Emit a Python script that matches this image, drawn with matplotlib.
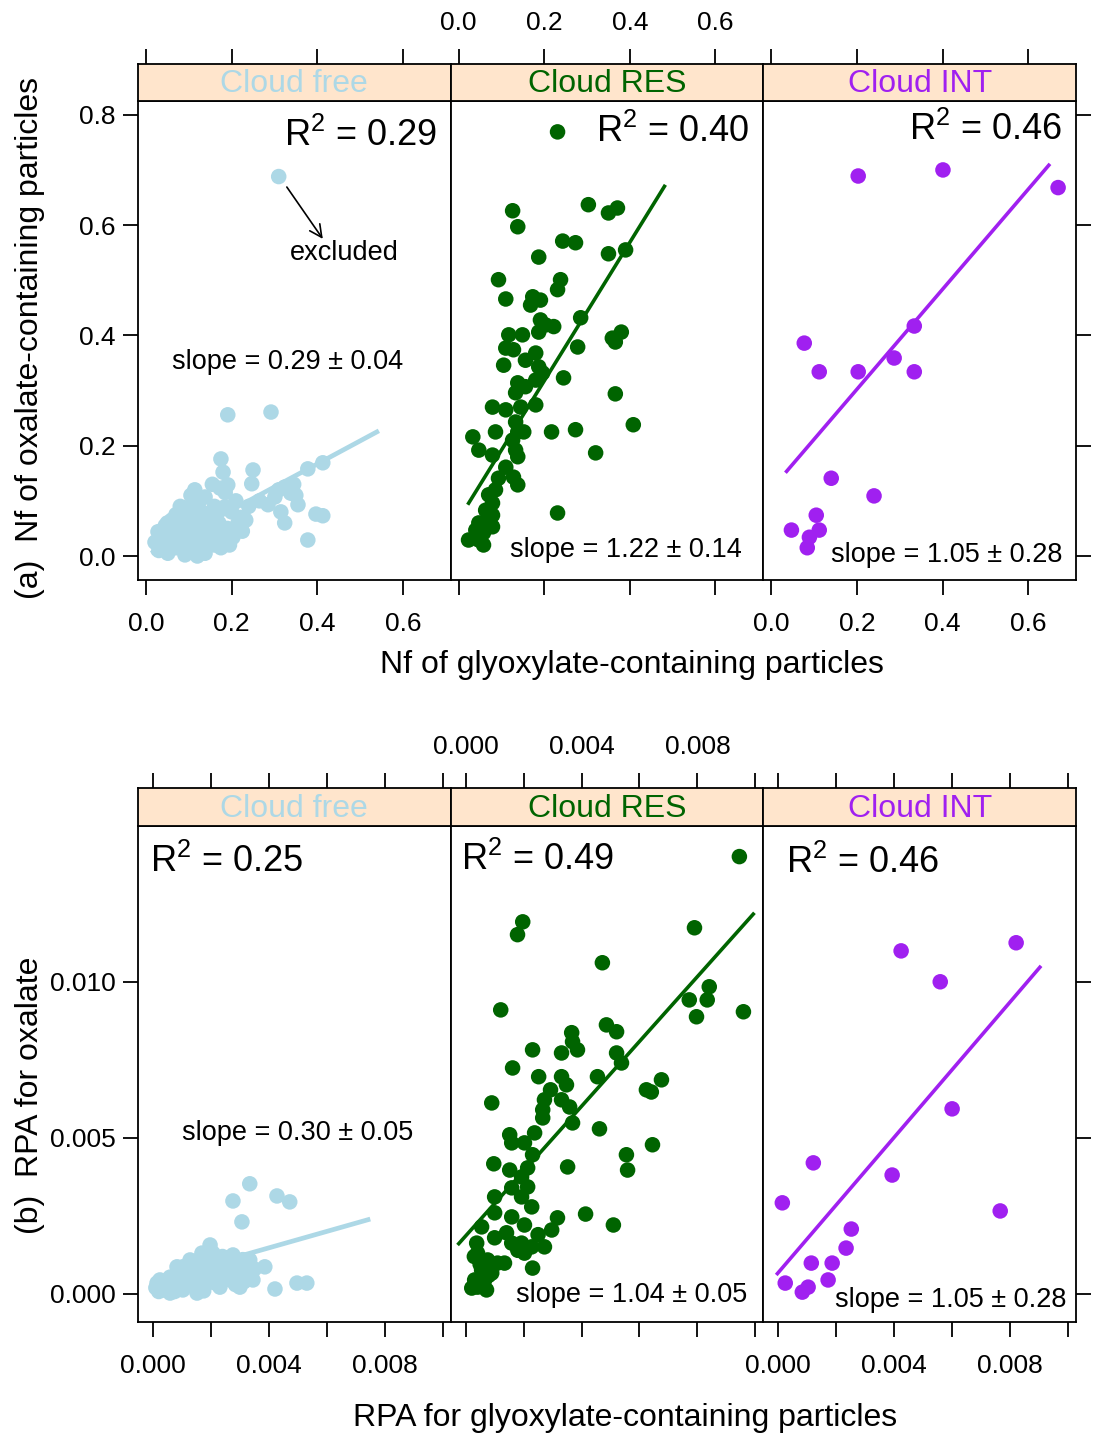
import matplotlib
matplotlib.use('Agg')
import matplotlib.pyplot as plt
import numpy as np

plt.rcParams['font.family'] = ['Liberation Sans', 'DejaVu Sans']
plt.rcParams['mathtext.fontset'] = 'custom'
plt.rcParams['mathtext.rm'] = 'Liberation Sans'
plt.rcParams['mathtext.it'] = 'Liberation Sans:italic'

# ---------------- data ----------------
groups = ["Cloud free", "Cloud RES", "Cloud INT"]
group_colors = ["#ADD8E6", "#006400", "#A020F0"]

# (a) Nf values
cf_a_x = [0.191, 0.292, 0.175, 0.180, 0.250, 0.247, 0.191, 0.173, 0.114, 0.138, 0.093, 0.184,
          0.378, 0.413, 0.324, 0.338, 0.301, 0.285, 0.355, 0.315, 0.324, 0.397, 0.413, 0.378,
          0.233, 0.215, 0.203, 0.028, 0.021, 0.138, 0.091, 0.051, 0.163, 0.161, 0.184, 0.068,
          0.058, 0.04, 0.06, 0.08, 0.10, 0.12, 0.14, 0.16, 0.11, 0.09, 0.13, 0.07, 0.05, 0.10,
          0.12, 0.15, 0.17, 0.19, 0.20, 0.08, 0.06, 0.03, 0.045, 0.115, 0.145, 0.175, 0.09,
          0.13, 0.16, 0.22, 0.24, 0.21, 0.105, 0.125, 0.07, 0.185, 0.155, 0.125, 0.085,
          0.035, 0.055, 0.075, 0.095, 0.115, 0.135, 0.155, 0.065, 0.085, 0.105, 0.145, 0.165,
          0.05, 0.07, 0.11, 0.13, 0.195, 0.225, 0.265, 0.31, 0.345, 0.35]
cf_a_y = [0.256, 0.261, 0.176, 0.152, 0.156, 0.131, 0.129, 0.123, 0.120, 0.107, 0.087, 0.089,
          0.158, 0.169, 0.125, 0.114, 0.107, 0.093, 0.093, 0.080, 0.060, 0.076, 0.073, 0.029,
          0.065, 0.060, 0.034, 0.044, 0.025, 0.005, 0.002, 0.005, 0.053, 0.035, 0.029, 0.060,
          0.035, 0.02, 0.03, 0.015, 0.04, 0.03, 0.05, 0.02, 0.06, 0.07, 0.08, 0.05, 0.04, 0.01,
          0.00, 0.07, 0.06, 0.05, 0.08, 0.09, 0.065, 0.01, 0.055, 0.095, 0.035, 0.015, 0.035,
          0.015, 0.09, 0.07, 0.09, 0.10, 0.11, 0.10, 0.075, 0.115, 0.13, 0.05, 0.055,
          0.03, 0.012, 0.03, 0.02, 0.025, 0.04, 0.045, 0.045, 0.075, 0.085, 0.065, 0.08,
          0.06, 0.015, 0.045, 0.06, 0.02, 0.045, 0.1, 0.12, 0.13, 0.11]
excluded_x = [0.310]
excluded_y = [0.688]

res_a_x = [0.231, 0.303, 0.350, 0.371, 0.126, 0.138, 0.243, 0.273, 0.187, 0.350, 0.390, 0.093,
           0.238, 0.231, 0.110, 0.173, 0.168, 0.191, 0.191, 0.203, 0.222, 0.285, 0.187, 0.117,
           0.149, 0.359, 0.380, 0.366, 0.110, 0.128, 0.278, 0.180, 0.156, 0.105, 0.187, 0.196,
           0.245, 0.180, 0.138, 0.156, 0.133, 0.366, 0.079, 0.110, 0.145, 0.180, 0.133, 0.086,
           0.138, 0.152, 0.217, 0.273, 0.408, 0.033, 0.126, 0.047, 0.079, 0.133, 0.138, 0.320,
           0.110, 0.093, 0.128, 0.138, 0.086, 0.070, 0.079, 0.231, 0.063, 0.079, 0.047, 0.068,
           0.079, 0.040, 0.058, 0.023, 0.047, 0.058, 0.044]
res_a_y = [0.769, 0.637, 0.622, 0.631, 0.626, 0.597, 0.571, 0.568, 0.542, 0.548, 0.555, 0.501,
           0.501, 0.483, 0.466, 0.470, 0.455, 0.464, 0.428, 0.419, 0.416, 0.432, 0.406, 0.401,
           0.401, 0.395, 0.406, 0.388, 0.377, 0.374, 0.379, 0.368, 0.355, 0.346, 0.343, 0.332,
           0.323, 0.319, 0.314, 0.307, 0.296, 0.294, 0.270, 0.265, 0.270, 0.274, 0.243, 0.225,
           0.225, 0.225, 0.225, 0.229, 0.238, 0.216, 0.210, 0.192, 0.183, 0.192, 0.180, 0.187,
           0.161, 0.141, 0.143, 0.129, 0.120, 0.111, 0.096, 0.078, 0.083, 0.074, 0.060, 0.060,
           0.053, 0.047, 0.042, 0.029, 0.029, 0.020, 0.034]

int_a_x = [0.203, 0.401, 0.670, 0.334, 0.077, 0.112, 0.203, 0.287, 0.334, 0.140, 0.240, 0.105,
           0.047, 0.112, 0.089, 0.084]
int_a_y = [0.689, 0.700, 0.668, 0.417, 0.386, 0.334, 0.334, 0.359, 0.334, 0.141, 0.109, 0.074,
           0.047, 0.047, 0.034, 0.015]

# (b) RPA values
cf_b_x = [0.00334, 0.00276, 0.00428, 0.00472, 0.00307, 0.00386, 0.00421, 0.00497, 0.00531,
          0.00197, 0.00276, 0.00083, 0.00128, 0.00169, 0.00207, 0.00231, 0.00300, 0.00324,
          0.00345, 0.00014, 0.00034, 0.00069, 0.00103, 0.00152, 0.00186, 0.00221, 0.00266,
          0.00059, 0.00117, 0.00162, 0.00207, 0.00255, 0.00290, 0.00024, 0.00083, 0.00138,
          0.00197, 0.00231, 0.00300, 0.00186, 0.00266, 0.00334, 0.00152, 0.00059, 0.00103,
          0.00152, 0.00010, 0.00045, 0.00075, 0.00095, 0.00125, 0.00145, 0.00175, 0.00210,
          0.00245, 0.00280, 0.00315, 0.00050, 0.00090, 0.00130, 0.00165, 0.00240, 0.00285,
          0.00020, 0.00115, 0.00180, 0.00215, 0.00260, 0.00350, 0.00310]
cf_b_y = [0.00353, 0.00298, 0.00314, 0.00295, 0.00231, 0.00087, 0.00016, 0.00035, 0.00035,
          0.00157, 0.00125, 0.00087, 0.00109, 0.00131, 0.00131, 0.00099, 0.00099, 0.00067,
          0.00045, 0.00035, 0.00013, 0.00022, 0.00013, 0.00022, 0.00035, 0.00045, 0.00045,
          0.00054, 0.00067, 0.00077, 0.00087, 0.00077, 0.00067, 0.00045, 0.00045, 0.00045,
          0.00054, 0.00022, 0.00022, 0.00109, 0.00109, 0.00109, 0.00003, 0.00003, 0.00087,
          0.00099, 0.00020, 0.00028, 0.00008, 0.00030, 0.00030, 0.00060, 0.00010, 0.00070,
          0.00060, 0.00090, 0.00040, 0.00040, 0.00060, 0.00075, 0.00115, 0.00120, 0.00030,
          0.00008, 0.00050, 0.00085, 0.00035, 0.00100, 0.00080, 0.00110]

res_b_x = [0.00945, 0.00197, 0.00179, 0.00790, 0.00472, 0.00121, 0.00959, 0.00772, 0.00841,
           0.00834, 0.00797, 0.00486, 0.00521, 0.00366, 0.00369, 0.00386, 0.00331, 0.00231,
           0.00521, 0.00538, 0.00162, 0.00252, 0.00331, 0.00455, 0.00348, 0.00676, 0.00624,
           0.00641, 0.00293, 0.00272, 0.00090, 0.00331, 0.00359, 0.00266, 0.00266, 0.00369,
           0.00462, 0.00645, 0.00152, 0.00238, 0.00159, 0.00203, 0.00231, 0.00555, 0.00559,
           0.00097, 0.00352, 0.00214, 0.00152, 0.00193, 0.00214, 0.00159, 0.00100, 0.00193,
           0.00228, 0.00414, 0.00510, 0.00317, 0.00100, 0.00159, 0.00203, 0.00297, 0.00055,
           0.00141, 0.00159, 0.00193, 0.00228, 0.00272, 0.00038, 0.00203, 0.00231, 0.00041,
           0.00076, 0.00110, 0.00134, 0.00055, 0.00090, 0.00031, 0.00066, 0.00021, 0.00072,
           0.00041, 0.00050, 0.00080, 0.00060, 0.00030, 0.00100, 0.00180, 0.00250]
res_b_y = [0.01401, 0.01192, 0.01151, 0.01173, 0.01061, 0.00910, 0.00904, 0.00942, 0.00984,
           0.00942, 0.00888, 0.00862, 0.00840, 0.00837, 0.00808, 0.00782, 0.00772, 0.00782,
           0.00772, 0.00740, 0.00724, 0.00696, 0.00696, 0.00696, 0.00670, 0.00686, 0.00654,
           0.00647, 0.00654, 0.00622, 0.00612, 0.00622, 0.00599, 0.00590, 0.00564, 0.00548,
           0.00529, 0.00478, 0.00510, 0.00516, 0.00484, 0.00484, 0.00446, 0.00446, 0.00397,
           0.00417, 0.00407, 0.00404, 0.00397, 0.00375, 0.00343, 0.00340, 0.00311, 0.00311,
           0.00279, 0.00256, 0.00221, 0.00244, 0.00260, 0.00247, 0.00221, 0.00205, 0.00215,
           0.00196, 0.00163, 0.00163, 0.00151, 0.00151, 0.00163, 0.00131, 0.00083, 0.00131,
           0.00109, 0.00099, 0.00099, 0.00077, 0.00067, 0.00045, 0.00045, 0.00019, 0.00013,
           0.00022, 0.00095, 0.00060, 0.00030, 0.00120, 0.00180, 0.00140, 0.00190]

int_b_x = [0.00821, 0.00424, 0.00559, 0.00600, 0.00121, 0.00393, 0.00014, 0.00766, 0.00252,
           0.00234, 0.00114, 0.00186, 0.00172, 0.00024, 0.00103, 0.00083]
int_b_y = [0.01125, 0.01099, 0.01000, 0.00593, 0.00420, 0.00381, 0.00292, 0.00266, 0.00208,
           0.00147, 0.00099, 0.00099, 0.00045, 0.00035, 0.00022, 0.00006]

# fitted regression lines (end points)
fit_a_x = [[0.012, 0.544], [0.021, 0.483], [0.033, 0.651]]
fit_a_y = [[0.005, 0.227], [0.093, 0.673], [0.151, 0.711]]
fit_b_x = [[0.0001, 0.0075], [-0.00028, 0.00997], [-0.00007, 0.00907]]
fit_b_y = [[0.00045, 0.0024], [0.00157, 0.01221], [0.00061, 0.01051]]

r2_a = ["0.29", "0.40", "0.46"]
r2_b = ["0.25", "0.49", "0.46"]
slope_a = ["0.29 \u00b1 0.04", "1.22 \u00b1 0.14", "1.05 \u00b1 0.28"]
slope_b = ["0.30 \u00b1 0.05", "1.04 \u00b1 0.05", "1.05 \u00b1 0.28"]

xticks_a = [0.0, 0.2, 0.4, 0.6]
xticklabels_a = ["0.0", "0.2", "0.4", "0.6"]
yticks_a = [0.0, 0.2, 0.4, 0.6, 0.8]
yticklabels_a = ["0.0", "0.2", "0.4", "0.6", "0.8"]
xticks_b = [0.0, 0.002, 0.004, 0.006, 0.008, 0.010]
xticklabels_b = ["0.000", "", "0.004", "", "0.008", ""]
yticks_b = [0.0, 0.005, 0.010]
yticklabels_b = ["0.000", "0.005", "0.010"]

xlabel_a = "Nf of glyoxylate-containing particles"
ylabel_a = "(a)  Nf of oxalate-containing particles"
xlabel_b = "RPA for glyoxylate-containing particles"
ylabel_b = "(b)  RPA for oxalate"

# ---------------- layout ----------------
W, H = 1097, 1441
fig = plt.figure(figsize=(W / 100, H / 100), dpi=100)


def rect(l, t, r, b):
    return [l / W, 1 - b / H, (r - l) / W, (b - t) / H]


col_edges = [138, 450.7, 763.3, 1076]
STRIP = "#FFE5CC"
LW = 1.3
TL = 11
FS_TICK = 19
MS = 125


def make_row(strip_top, panel_top, panel_bottom, xlim, ylim, xticks, xtl, yticks, ytl,
             data, fits_x, fits_y, r2, slopes, r2_pos, slope_pos, r2_ha):
    axes = []
    for i in range(3):
        l, r = col_edges[i], col_edges[i + 1]
        ax = fig.add_axes(rect(l, panel_top, r, panel_bottom))
        sax = fig.add_axes(rect(l, strip_top, r, panel_top))
        for a in (ax, sax):
            for s in a.spines.values():
                s.set_linewidth(LW)
        ax.set_xlim(xlim)
        ax.set_ylim(ylim)
        xs, ys = data[i]
        ax.scatter(xs, ys, s=MS, color=group_colors[i], edgecolors='none', zorder=3)
        ax.plot(fits_x[i], fits_y[i], color=group_colors[i], lw=2.6 if i else 3.4, zorder=2,
                solid_capstyle='butt')
        # ticks
        ax.set_xticks(xticks)
        ax.set_xticklabels(xtl)
        ax.tick_params(axis='x', which='both', direction='out', length=TL, width=LW,
                       labelsize=FS_TICK, pad=12, bottom=True, top=False,
                       labelbottom=(i != 1))
        ax.set_yticks(yticks)
        ax.set_yticklabels(ytl)
        ax.tick_params(axis='y', direction='out', length=TL, width=LW, labelsize=FS_TICK,
                       pad=5, left=(i == 0), labelleft=(i == 0), right=(i == 2),
                       labelright=False)
        # strip
        sax.set_facecolor(STRIP)
        sax.set_xlim(xlim)
        sax.set_ylim(0, 1)
        sax.set_yticks([])
        sax.set_xticks(xticks)
        sax.set_xticklabels(xtl)
        sax.tick_params(axis='x', direction='out', length=TL, width=LW, labelsize=FS_TICK,
                        pad=10, bottom=False, top=True, labelbottom=False,
                        labeltop=(i == 1))
        sax.text(0.5, 0.45, groups[i], transform=sax.transAxes, ha='center', va='center',
                 fontsize=23, color=group_colors[i])
        # annotations
        ax.text(r2_pos[i][0], r2_pos[i][1], "R$^{2}$ = " + r2[i], transform=ax.transAxes,
                ha=r2_ha, va='center', fontsize=26, zorder=4)
        ax.text(slope_pos[i][0], slope_pos[i][1], "slope = " + slopes[i],
                transform=ax.transAxes, ha=slope_pos[i][2], va='center', fontsize=19.5,
                zorder=4)
        axes.append(ax)
    return axes


axes_a = make_row(64, 101, 580, (-0.0187, 0.7118), (-0.0435, 0.825),
                  xticks_a, xticklabels_a, yticks_a, yticklabels_a,
                  [(cf_a_x, cf_a_y), (res_a_x, res_a_y), (int_a_x, int_a_y)],
                  fit_a_x, fit_a_y, r2_a, slope_a,
                  [(0.958, 0.927), (0.955, 0.935), (0.955, 0.939)],
                  [(0.479, 0.455, 'center'), (0.93, 0.063, 'right'), (0.958, 0.052, 'right')],
                  'right')
axes_b = make_row(788, 826, 1322, (-0.000517, 0.010276), (-0.000897, 0.01499),
                  xticks_b, xticklabels_b, yticks_b, yticklabels_b,
                  [(cf_b_x, cf_b_y), (res_b_x, res_b_y), (int_b_x, int_b_y)],
                  fit_b_x, fit_b_y, r2_b, slope_b,
                  [(0.038, 0.927), (0.032, 0.931), (0.074, 0.925)],
                  [(0.511, 0.381, 'center'), (0.949, 0.054, 'right'), (0.968, 0.044, 'right')],
                  'left')

# excluded outlier in Cloud free (a)
ax0 = axes_a[0]
ax0.scatter(excluded_x, excluded_y, s=MS, color=group_colors[0], edgecolors='none', zorder=3)
ax0.annotate("", xy=(0.413, 0.575), xytext=(0.329, 0.669),
             arrowprops=dict(arrowstyle='->', lw=1.2, color='black', mutation_scale=22,
                             shrinkA=0, shrinkB=0))
ax0.text(0.464, 0.550, "excluded", ha='center', va='center', fontsize=19.5)

# axis labels
fig.text(632 / W, 1 - 665 / H, xlabel_a, ha='center', va='center', fontsize=23)
fig.text(625 / W, 1 - 1418 / H, xlabel_b, ha='center', va='center', fontsize=23)
fig.text(30 / W, 1 - 338 / H, ylabel_a, ha='center', va='center', rotation=90, fontsize=23)
fig.text(30 / W, 1 - 1095 / H, ylabel_b, ha='center', va='center', rotation=90, fontsize=23)

fig.savefig("out.png", dpi=100, facecolor='white')
